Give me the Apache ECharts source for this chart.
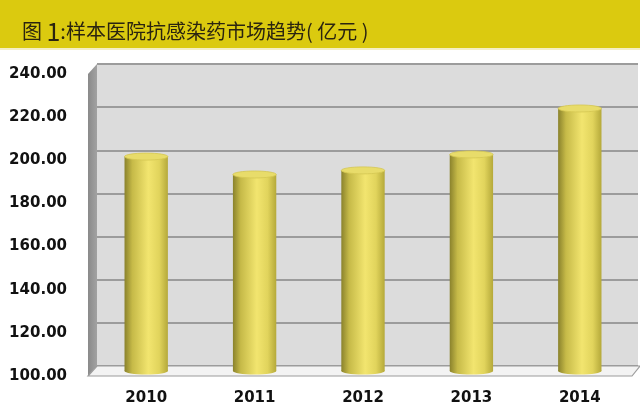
<!DOCTYPE html>
<html>
<head>
<meta charset="utf-8">
<script src="https://cdn.jsdelivr.net/npm/echarts@6/dist/echarts.min.js"></script>
<style>
html,body{margin:0;padding:0;background:#fff;}
#c{width:640px;height:413px;}
</style>
</head>
<body>
<div id="c"></div>
<script>
const categories = ['2010', '2011', '2012', '2013', '2014'];
const marketValues = [199.4, 191.1, 193.0, 200.4, 221.7];
const yTicks = [100, 120, 140, 160, 180, 200, 220, 240];
const titleText = '图 1:样本医院抗感染药市场趋势( 亿元 )';

const yMin = yTicks[0], yMax = yTicks[yTicks.length - 1], yStep = yTicks[1] - yTicks[0];

const chart = echarts.init(document.getElementById('c'), null, {renderer: 'canvas'});

const bodyGrad = {
  type: 'linear', x: 0, y: 0, x2: 1, y2: 0,
  colorStops: [
    {offset: 0, color: '#8a822c'},
    {offset: 0.18, color: '#c6ba48'},
    {offset: 0.55, color: '#f2e56f'},
    {offset: 0.8, color: '#e1d45c'},
    {offset: 1, color: '#b5a93a'}
  ]
};

function renderCylinder(params, api) {
  const top = api.coord([api.value(0), api.value(1)]);
  const base = api.coord([api.value(0), yMin]);
  const w = api.size([1, 0])[0] * 0.4;
  const rx = w / 2, ry = 3.5;
  const cx = top[0];
  return {
    type: 'group',
    children: [
      {type: 'ellipse', shape: {cx: cx, cy: base[1], rx: rx, ry: ry}, style: {fill: bodyGrad}},
      {type: 'rect', shape: {x: cx - rx, y: top[1], width: w, height: base[1] - top[1]}, style: {fill: bodyGrad}},
      {type: 'ellipse', shape: {cx: cx, cy: top[1], rx: rx, ry: ry}, style: {fill: '#e8dc6a', stroke: '#d4c752', lineWidth: 0.8}}
    ]
  };
}

const labelFont = {fontFamily: 'DejaVu Sans', fontWeight: 'bold', fontSize: 15, color: '#111'};

chart.setOption({
  animation: false,
  backgroundColor: '#ffffff',
  graphic: [
    {type: 'rect', left: 0, top: 0, shape: {width: 640, height: 48}, style: {fill: '#dbca0f'}, z: 1},
    {type: 'rect', left: 0, top: 48, shape: {width: 640, height: 2}, style: {fill: '#f4efc4'}, z: 1},
    {type: 'text', left: 22, top: 19, style: {
      text: '{a|图 }{b|1}{a|:样本医院抗感染药市场趋势( 亿元 )}',
      rich: {
        a: {fontFamily: 'Noto Sans CJK SC', fontSize: 20, fill: '#2a2410', fontWeight: 'normal'},
        b: {fontFamily: 'Noto Sans CJK SC', fontSize: 25, fill: '#2a2410'}
      }
    }, z: 2},
    {type: 'polygon', shape: {points: [[88, 74], [97, 64], [97, 366], [88, 376]]},
      style: {fill: {type: 'linear', x: 0, y: 0, x2: 1, y2: 0, colorStops: [{offset: 0, color: '#8a8a8a'}, {offset: 1, color: '#a2a2a2'}]}}, z: 1},
    {type: 'polygon', shape: {points: [[88, 376], [97, 366], [640, 366], [632, 376]]},
      style: {fill: '#f3f3f3', stroke: '#9c9c9c', lineWidth: 1.2}, z: 1}
  ],
  grid: [
    {left: 97, right: 2, top: 64, bottom: 47, show: true, backgroundColor: '#dcdcdc', borderWidth: 0},
    {left: 88, right: 9, top: 74, bottom: 37},
    {left: 92, right: 6, top: 69, bottom: 42}
  ],
  xAxis: [
    {gridIndex: 0, type: 'category', data: categories, show: false},
    {gridIndex: 1, type: 'category', data: categories, show: false},
    {gridIndex: 2, type: 'category', data: categories,
      axisLine: {show: false}, axisTick: {show: false},
      axisLabel: Object.assign({margin: 20}, labelFont)}
  ],
  yAxis: [
    {gridIndex: 0, type: 'value', min: yMin, max: yMax, interval: yStep,
      axisLabel: {show: false}, axisLine: {show: false}, axisTick: {show: false},
      splitLine: {show: true, lineStyle: {color: '#9c9c9c', width: 2}}},
    {gridIndex: 1, type: 'value', min: yMin, max: yMax, interval: yStep,
      axisLine: {show: false}, axisTick: {show: false}, splitLine: {show: false},
      axisLabel: Object.assign({margin: 21, formatter: v => v.toFixed(2)}, labelFont)},
    {gridIndex: 2, type: 'value', min: yMin, max: yMax, interval: yStep, show: false,
      splitLine: {show: false}}
  ],
  series: [{
    type: 'custom',
    xAxisIndex: 2,
    yAxisIndex: 2,
    z: 5,
    renderItem: renderCylinder,
    encode: {x: 0, y: 1},
    data: categories.map((c, i) => [i, marketValues[i]])
  }]
});
</script>
</body>
</html>
